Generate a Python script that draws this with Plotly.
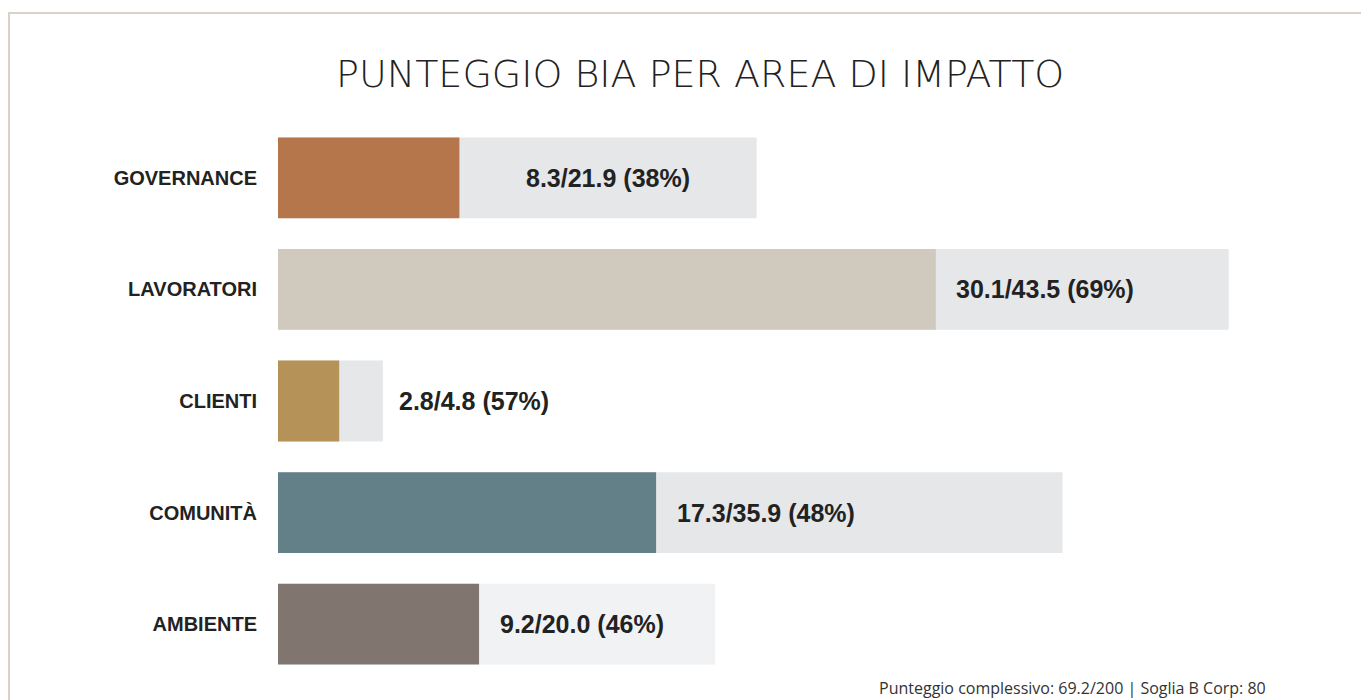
import plotly.graph_objects as go

# ---- data ----
categories = ["GOVERNANCE", "LAVORATORI", "CLIENTI", "COMUNITÀ", "AMBIENTE"]
scores = [8.3, 30.1, 2.8, 17.3, 9.2]
max_scores = [21.9, 43.5, 4.8, 35.9, 20.0]
percents = [38, 69, 57, 48, 46]
title_text = "PUNTEGGIO BIA PER AREA DI IMPATTO"
footer_text = "Punteggio complessivo: 69.2/200 | Soglia B Corp: 80"

# ---- styles ----
bar_colors = ["#B5764C", "#D0C9BE", "#B59257", "#637F87", "#80766F"]
bg_colors = ["#E6E7E9", "#E6E7E9", "#E6E7E9", "#E6E7E9", "#F1F2F4"]
# label placement: 'center' of remaining track, 'after' score bar, 'outside' the track
placement = ["center", "after", "outside", "after", "after"]

FIG_W, FIG_H = 1369, 700
ML, MR, MT, MB = 270, 15, 114, 28
PW = FIG_W - ML - MR
PH = FIG_H - MT - MB
XMAX = 49.6


def px_x(px):
    return (px - ML) / PW


def px_y(py):
    return (FIG_H - MB - py) / PH


fig = go.Figure()
fig.add_trace(go.Bar(
    y=categories, x=max_scores, orientation="h",
    marker=dict(color=bg_colors, line=dict(width=0)),
    width=0.724, hoverinfo="skip", showlegend=False,
))
fig.add_trace(go.Bar(
    y=categories, x=scores, orientation="h",
    marker=dict(color=bar_colors, line=dict(width=0)),
    width=0.724, showlegend=False,
))

annotations = []
for cat, s, m, p, mode in zip(categories, scores, max_scores, percents, placement):
    label = f"{s:.1f}/{m:.1f} ({p}%)"
    if mode == "center":
        x, anchor = (s + m) / 2, "center"
    elif mode == "outside":
        x, anchor = m + 0.65, "left"
    else:
        x, anchor = s + 0.85, "left"
    annotations.append(dict(
        x=x, y=cat, xref="x", yref="y", text=f"<b>{label}</b>",
        showarrow=False, xanchor=anchor, yanchor="middle",
        font=dict(family="Liberation Sans", size=25, color="#222222"),
    ))

# title
annotations.append(dict(
    x=px_x(692), y=px_y(66), xref="paper", yref="paper",
    text=title_text, showarrow=False, xanchor="center", yanchor="middle",
    font=dict(family="DejaVu Sans", size=38, color="#222222", weight=200),
))
# footer
annotations.append(dict(
    x=px_x(1260), y=px_y(680), xref="paper", yref="paper",
    text=footer_text, showarrow=False, xanchor="right", yanchor="middle",
    font=dict(family="Open Sans", size=16, color="#333333"),
))

frame = dict(
    type="rect", xref="paper", yref="paper",
    x0=px_x(1), x1=px_x(FIG_W + 20),
    y0=px_y(FIG_H + 20), y1=px_y(5),
    line=dict(color="#D8D2C8", width=2), fillcolor="rgba(0,0,0,0)", layer="below",
)

fig.update_layout(
    width=FIG_W, height=FIG_H,
    margin=dict(l=ML, r=MR, t=MT, b=MB, autoexpand=False),
    barmode="overlay",
    paper_bgcolor="white", plot_bgcolor="white",
    xaxis=dict(range=[0, XMAX], visible=False, fixedrange=True),
    yaxis=dict(
        range=[4.5, -0.5], categoryorder="array", categoryarray=categories,
        showgrid=False, zeroline=False, showline=False, ticks="",
        ticklabelstandoff=20,
        tickfont=dict(family="Liberation Sans", size=20, color="#222222", weight="bold"),
        fixedrange=True,
    ),
    annotations=annotations,
    shapes=[frame],
    showlegend=False,
)

fig.write_html("out.html", config={"displayModeBar": False})
